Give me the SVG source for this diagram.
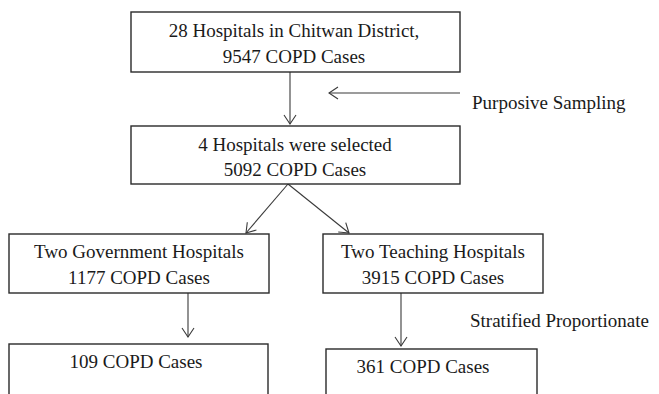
<svg xmlns="http://www.w3.org/2000/svg" width="659" height="394" viewBox="0 0 659 394">
<defs>
<style>
.box{fill:#fff;stroke:#2a2a2a;stroke-width:1.4}
.t{font-family:'Liberation Serif','Times New Roman',Times,'DejaVu Serif',serif;font-size:19px;fill:#1a1a1a}
.c{text-anchor:middle}
.con{stroke:#3a3a3a;stroke-width:1.1;fill:none}
</style>
<marker id="ah" markerUnits="userSpaceOnUse" markerWidth="12" markerHeight="14" viewBox="0 0 12 14" refX="10" refY="7" orient="auto">
<path d="M1,1 L10,7 L1,13" fill="none" stroke="#3a3a3a" stroke-width="1.1"/>
</marker>
</defs>
<rect width="659" height="394" fill="#fff"/>
<g id="connectors">
<line class="con" x1="290" y1="72" x2="290" y2="124" marker-end="url(#ah)"/>
<line class="con" x1="460" y1="93" x2="329" y2="93" marker-end="url(#ah)"/>
<line class="con" x1="288" y1="184" x2="246" y2="233" marker-end="url(#ah)"/>
<line class="con" x1="288" y1="184" x2="349" y2="233" marker-end="url(#ah)"/>
<line class="con" x1="188" y1="293" x2="188" y2="337" marker-end="url(#ah)"/>
<line class="con" x1="401" y1="293" x2="401" y2="346" marker-end="url(#ah)"/>
</g>
<g id="n1">
<rect class="box" x="131" y="12" width="329" height="60"/>
<text class="t c" x="294" y="37" font-family="Liberation Serif, serif">28 Hospitals in Chitwan District,</text>
<text class="t c" x="294" y="63" font-family="Liberation Serif, serif">9547 COPD Cases</text>
</g>
<g id="purposive">
<text class="t" x="472" y="109">Purposive Sampling</text>
</g>
<g id="n2">
<rect class="box" x="131" y="126" width="329" height="58"/>
<text class="t c" x="295" y="151">4 Hospitals were selected</text>
<text class="t c" x="295" y="176">5092 COPD Cases</text>
</g>
<g id="n3">
<rect class="box" x="9" y="234" width="260" height="59"/>
<text class="t c" x="139" y="258">Two Government Hospitals</text>
<text class="t c" x="139" y="284">1177 COPD Cases</text>
</g>
<g id="n4">
<rect class="box" x="323" y="234" width="220" height="59"/>
<text class="t c" x="433" y="258">Two Teaching Hospitals</text>
<text class="t c" x="433" y="284">3915 COPD Cases</text>
</g>
<g id="stratified">
<text class="t" x="470" y="327">Stratified Proportionate</text>
</g>
<g id="n5">
<rect class="box" x="9" y="344" width="259" height="60"/>
<text class="t c" x="136" y="368">109 COPD Cases</text>
</g>
<g id="n6">
<rect class="box" x="326" y="349" width="211" height="55"/>
<text class="t c" x="423" y="373">361 COPD Cases</text>
</g>
</svg>
